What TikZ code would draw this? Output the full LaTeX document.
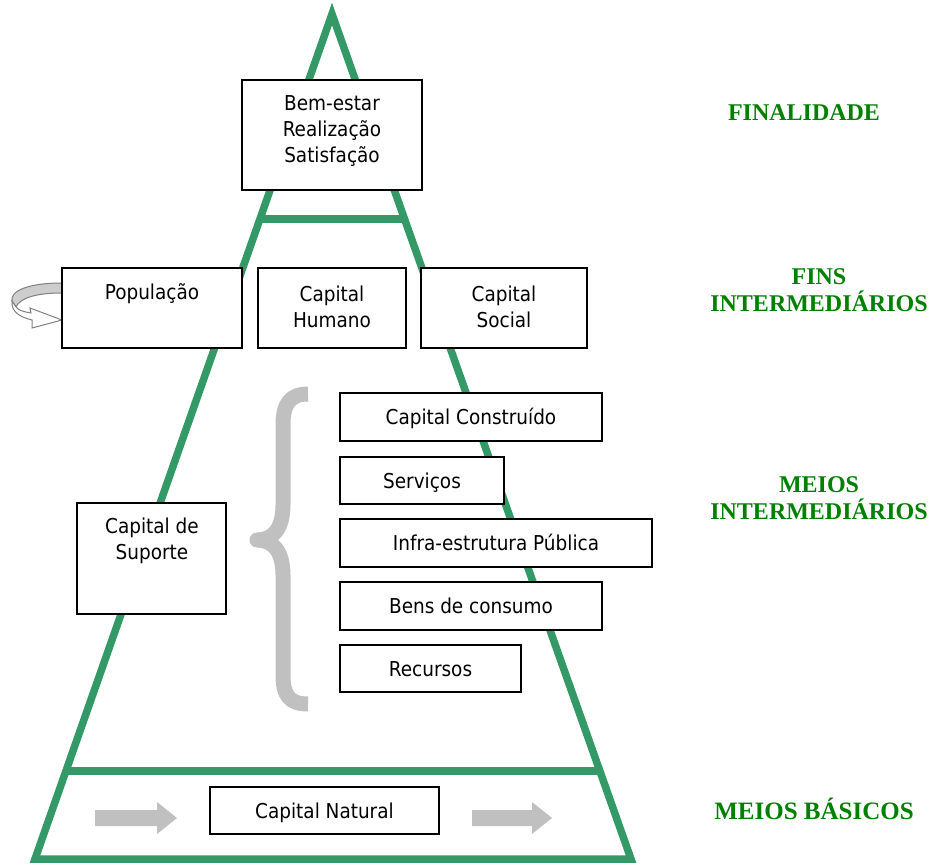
\documentclass[tikz,border=0pt]{standalone}
\usepackage{fontspec}
\usepackage{tikz}
\usetikzlibrary{arrows,arrows.meta,positioning,calc}
\newfontfamily\boxfont{DejaVu Sans Condensed}
\newfontfamily\levelfont{Liberation Serif}
\definecolor{pyrgreen}{HTML}{339966}
\definecolor{levelgreen}{HTML}{008000}
\definecolor{bracegray}{HTML}{C0C0C0}

\begin{document}
\begin{tikzpicture}[x=1pt,y=-1pt]
        \tikzstyle{every node}=[font=\boxfont\fontsize{20.5}{26}\selectfont]
        \tikzstyle{box}=[draw=black,fill=white,line width=1.5pt,inner sep=0pt,text height=18pt,text depth=3pt]
        \tikzstyle{level}=[text=levelgreen,font=\levelfont\bfseries\fontsize{24}{27}\selectfont,align=center]
        \useasboundingbox (0,0) rectangle (929,865);

        %%% Pyramid
        \coordinate (apex) at (332,14);
        \coordinate (baseL) at (35,859);
        \coordinate (baseR) at (631,859);
        \draw[pyrgreen,line width=7.5pt] (apex) -- (baseL) -- (baseR) -- cycle;
        \draw[pyrgreen,line width=7.5pt] ($(apex)!0.2426!(baseL)$) -- ($(apex)!0.2426!(baseR)$);
        \draw[pyrgreen,line width=7.5pt] ($(apex)!0.8959!(baseL)$) -- ($(apex)!0.8959!(baseR)$);

        %%% Finalidade
        \node[box,minimum width=180pt,minimum height=110pt] (goal) at (332,135) {};
        \node[align=center] (goaltxt) at (332,131) {Bem-estar\\Realização\\Satisfação};

        %%% Fins intermediarios
        \filldraw[fill=bracegray!80,draw=gray,line width=1pt] (62,283) .. controls (28,283) and (10,291) .. (12,301) -- (16,307) .. controls (20,298) and (36,293) .. (62,293) -- cycle;
        \filldraw[fill=white,draw=gray,line width=1pt] (12,301) .. controls (11,312) and (20,317) .. (32,320) -- (32,328) -- (62,320) -- (30,308) -- (31,313) .. controls (24,312) and (18,310) .. (16,307) -- cycle;
        \node[box,minimum width=180pt,minimum height=80pt] (pop) at (152,308) {};
        \node[box,minimum width=148pt,minimum height=80pt] (human) at (332,308) {};
        \node[box,minimum width=166pt,minimum height=80pt] (social) at (504,308) {};
        \node (poptxt) at (152,294) {População};
        \node[align=center] (humantxt) at (332,307) {Capital\\Humano};
        \node[align=center] (socialtxt) at (504,307) {Capital\\Social};

        %%% Meios intermediarios
        \node[box,minimum width=149pt,minimum height=111pt] (support) at (151.5,558.5) {};
        \node[align=center] (supporttxt) at (152,541) {Capital de\\Suporte};
        \draw[bracegray,line width=15pt,line join=round] (308,394) .. controls (290,394) and (283,404) .. (283,425) -- (283,505) .. controls (283,530) and (272,540) .. (257,540) .. controls (272,540) and (283,550) .. (283,575) -- (283,675) .. controls (283,696) and (290,704) .. (308,704);
        \node[box,minimum width=262pt,minimum height=48pt] (built) at (471,417) {Capital Construído};
        \node[box,minimum width=164pt,minimum height=47pt] (serv) at (422,480.5) {Serviços};
        \node[box,minimum width=312pt,minimum height=48pt] (infra) at (496,543) {Infra-estrutura Pública};
        \node[box,minimum width=262pt,minimum height=48pt] (goods) at (471,606) {Bens de consumo};
        \node[box,minimum width=181pt,minimum height=47pt] (resources) at (430.5,668.5) {Recursos};

        %%% Meios basicos
        \node[box,minimum width=229pt,minimum height=47pt] (natural) at (324.5,810.5) {Capital Natural};
        \fill[bracegray] (95,810) -- (157,810) -- (157,802) -- (177,818) -- (157,834) -- (157,826) -- (95,826) -- cycle;
        \fill[bracegray] (472,810) -- (532,810) -- (532,802) -- (552,818) -- (532,834) -- (532,826) -- (472,826) -- cycle;

        %%% Levels
        \node[level] (finalidade) at (804,113) {FINALIDADE};
        \node[level] (fins) at (819,290) {FINS\\INTERMEDIÁRIOS};
        \node[level] (meios) at (819,498) {MEIOS\\INTERMEDIÁRIOS};
        \node[level,font=\levelfont\bfseries\fontsize{25}{27}\selectfont] (basicos) at (814,809) {MEIOS BÁSICOS};
\end{tikzpicture}
\end{document}
